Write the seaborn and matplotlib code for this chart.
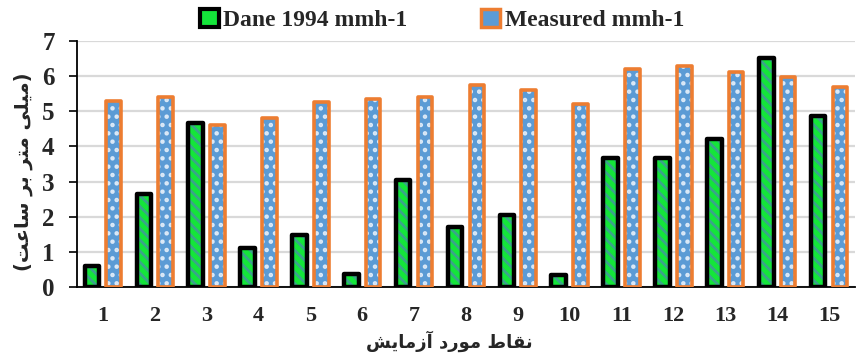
import matplotlib
matplotlib.use("Agg")
import matplotlib.pyplot as plt
import seaborn as sns
import pandas as pd
import numpy as np
from matplotlib.patches import Rectangle, Patch

points = [str(i) for i in range(1, 16)]
dane = [0.60, 2.65, 4.68, 1.10, 1.48, 0.38, 3.05, 1.70, 2.05, 0.35, 3.67, 3.67, 4.20, 6.52, 4.87]
measured = [5.28, 5.40, 4.62, 4.80, 5.25, 5.35, 5.42, 5.75, 5.60, 5.22, 6.20, 6.30, 6.13, 5.98, 5.70]
series_names = ["Dane 1994 mmh-1", "Measured mmh-1"]
yticks = [0, 1, 2, 3, 4, 5, 6, 7]

# Persian labels written in visual (shaped, left-to-right) order
xlabel = "\uFEB6\uFEF3\uFE8E\uFEE3\uFEAF\uFE81 \uFEA9\uFEAD\uFEEE\uFEE3 \uFEC1\uFE8E\uFED8\uFEE7"  # نقاط مورد آزمایش
ylabel = "(\uFE96\uFECB\uFE8E\uFEB3 \uFEAE\uFE91 \uFEAE\uFE98\uFEE3 \uFEF0\uFEE0\uFEF4\uFEE3)"  # (میلی متر بر ساعت)

df = pd.DataFrame({
    "point": points * 2,
    "value": dane + measured,
    "series": [series_names[0]] * len(points) + [series_names[1]] * len(points),
})

sns.set_theme(style="white")
plt.rcParams['font.family'] = ['Liberation Serif', 'DejaVu Sans']
plt.rcParams['hatch.linewidth'] = 2.0

fig = plt.figure(figsize=(8.58, 3.58), dpi=100)
ax = fig.add_axes([0.0897, 0.1983, 0.9067, 0.6872])

green_fill = "#14e53a"
green_hatch = "#3aa58a"
blue_fill = "#5b9bd5"
orange = "#ed7d31"

sns.barplot(data=df, x="point", y="value", hue="series", order=points,
            hue_order=series_names, width=0.84, gap=0.33, ax=ax,
            palette=[green_fill, blue_fill], legend=False, errorbar=None)

n = len(points)
for i, p in enumerate(ax.patches[:2 * n]):
    is_dane = i < n
    x, y = p.get_x(), p.get_y()
    w, h = p.get_width(), p.get_height()
    if is_dane:
        p.set_facecolor(green_fill)
        p.set_hatch("\\\\\\")
        p.set_edgecolor(green_hatch)
        p.set_linewidth(0)
        ax.add_patch(Rectangle((x, y), w, h, fill=False, edgecolor="black",
                               linewidth=3.2, joinstyle="round", zorder=3))
    else:
        p.set_facecolor(blue_fill)
        p.set_hatch("..")
        p.set_edgecolor("#dbe9f7")
        p.set_linewidth(0)
        ax.add_patch(Rectangle((x, y), w, h, fill=False, edgecolor=orange,
                               linewidth=2.6, joinstyle="round", zorder=3))

ax.set_xlim(-0.5, n - 0.5)
ax.set_ylim(0, 7)
ax.set_yticks(yticks)
ax.set_yticklabels([str(t) for t in yticks], fontsize=18, fontweight="bold",
                   family="Liberation Serif")
ax.set_xticks(range(n))
ax.set_xticklabels(points, fontsize=16, fontweight="bold", family="Liberation Serif")
ax.set_xticks(np.arange(-0.5, n, 1.0), minor=True)
ax.tick_params(axis="x", which="major", length=0, pad=14)
ax.tick_params(axis="x", which="minor", length=6, width=1.2, color="black", direction="out")
ax.tick_params(axis="y", which="major", length=6, width=1.2, color="black", direction="out",
               pad=10, left=True)

ax.yaxis.grid(True, color="#d9d9d9", linewidth=1.6)
ax.set_axisbelow(True)
for s in ["top", "right"]:
    ax.spines[s].set_visible(False)
for s in ["left", "bottom"]:
    ax.spines[s].set_visible(True)
    ax.spines[s].set_color("black")
    ax.spines[s].set_linewidth(1.3)

ax.set_xlabel(xlabel, fontsize=13, fontweight="bold", family="DejaVu Sans")
ax.xaxis.set_label_coords(0.478, -0.178)
ax.set_ylabel(ylabel, fontsize=14, fontweight="bold", family="DejaVu Sans")
ax.yaxis.set_label_coords(-0.056, 0.47)

handles = [
    Patch(facecolor=green_fill, edgecolor="black", linewidth=3),
    Patch(facecolor=blue_fill, edgecolor=orange, linewidth=2.5),
]
fig.legend(handles, series_names, loc="upper center", bbox_to_anchor=(0.515, 1.035),
           ncol=2, frameon=False, columnspacing=3.1, handlelength=0.8, handleheight=0.8,
           handletextpad=0.2,
           prop={"family": "Liberation Serif", "weight": "bold", "size": 17})

fig.savefig("out.png", dpi=100)
